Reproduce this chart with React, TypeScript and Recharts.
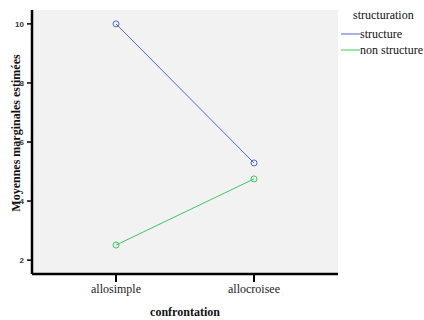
import React from "react";
import { LineChart, Line, XAxis, YAxis, CartesianGrid } from "recharts";

const categories = ["allosimple", "allocroisee"];
const structure = [10, 5.29];
const nonStructure = [2.51, 4.75];
const yTicks = [2, 4, 6, 8, 10];
const yDomain = [1.53, 10.47];

const seriesNames = ["structure", "non structure"];
const seriesColors = ["#4a6bd0", "#3cc85a"];

const data = categories.map((c, i) => ({
  cat: c,
  structure: structure[i],
  nonStructure: nonStructure[i],
}));

const serif = "Liberation Serif, Times New Roman, serif";
const sans = "Liberation Sans, Arial, sans-serif";

function YLabel() {
  return (
    <text
      x={16}
      y={133}
      transform="rotate(-90, 16, 133)"
      textAnchor="middle"
      dominantBaseline="central"
      fontFamily={serif}
      fontSize={12}
      fontWeight="bold"
      fill="#111"
    >
      Moyennes marginales estimées
    </text>
  );
}

function LegendBox() {
  return (
    <svg
      width={84}
      height={60}
      style={{ position: "absolute", left: 340, top: 0 }}
      fontFamily={serif}
      fontSize={12}
    >
      <text x={13} y={19} fill="#111">
        structuration
      </text>
      {seriesNames.map((n, i) => (
        <g key={n}>
          <line x1={1} x2={20} y1={34 + i * 16} y2={34 + i * 16} stroke={seriesColors[i]} strokeWidth={1} />
          <text x={20} y={38 + i * 16} fill="#111">
            {n}
          </text>
        </g>
      ))}
    </svg>
  );
}

export default function App() {
  return (
    <div style={{ position: "absolute", left: 0, top: 0, width: 424, height: 320, background: "#fff" }}>
      <LineChart
        width={424}
        height={320}
        data={data}
        margin={{ top: 10, right: 86, bottom: 0, left: 0 }}
      >
        <CartesianGrid fill="#f2f2f2" horizontal={false} vertical={false} />
        <XAxis
          dataKey="cat"
          height={46}
          padding={{ left: 84, right: 84 }}
          axisLine={{ stroke: "#000", strokeWidth: 2.5 }}
          tickLine={{ stroke: "#000", strokeWidth: 2 }}
          tickSize={8}
          tickMargin={2}
          tick={{ fontFamily: serif, fontSize: 12, fill: "#222" }}
          label={{
            value: "confrontation",
            position: "insideBottom",
            offset: 4,
            style: { fontFamily: serif, fontSize: 12, fontWeight: "bold", fill: "#111" },
          }}
        />
        <XAxis
          xAxisId="top"
          dataKey="cat"
          orientation="top"
          height={0}
          tick={false}
          tickLine={false}
          axisLine={{ stroke: "#777", strokeWidth: 2 }}
        />
        <YAxis
          width={32}
          domain={yDomain}
          ticks={yTicks}
          allowDataOverflow
          axisLine={{ stroke: "#000", strokeWidth: 2.5 }}
          tickLine={{ stroke: "#000", strokeWidth: 1.5 }}
          tickSize={5}
          tickMargin={3}
          tick={{ fontFamily: sans, fontSize: 8, fill: "#333", fontWeight: "bold" }}
          label={<YLabel />}
        />
        <YAxis
          yAxisId="right"
          orientation="right"
          width={0}
          domain={yDomain}
          tick={false}
          tickLine={false}
          axisLine={{ stroke: "#777", strokeWidth: 2 }}
        />
        <Line
          dataKey="structure"
          name={seriesNames[0]}
          stroke={seriesColors[0]}
          strokeWidth={1}
          dot={{ r: 3, fill: "none", stroke: seriesColors[0], strokeWidth: 1 }}
          isAnimationActive={false}
        />
        <Line
          dataKey="nonStructure"
          name={seriesNames[1]}
          stroke={seriesColors[1]}
          strokeWidth={1}
          dot={{ r: 3, fill: "none", stroke: seriesColors[1], strokeWidth: 1 }}
          isAnimationActive={false}
        />
      </LineChart>
      <LegendBox />
    </div>
  );
}
